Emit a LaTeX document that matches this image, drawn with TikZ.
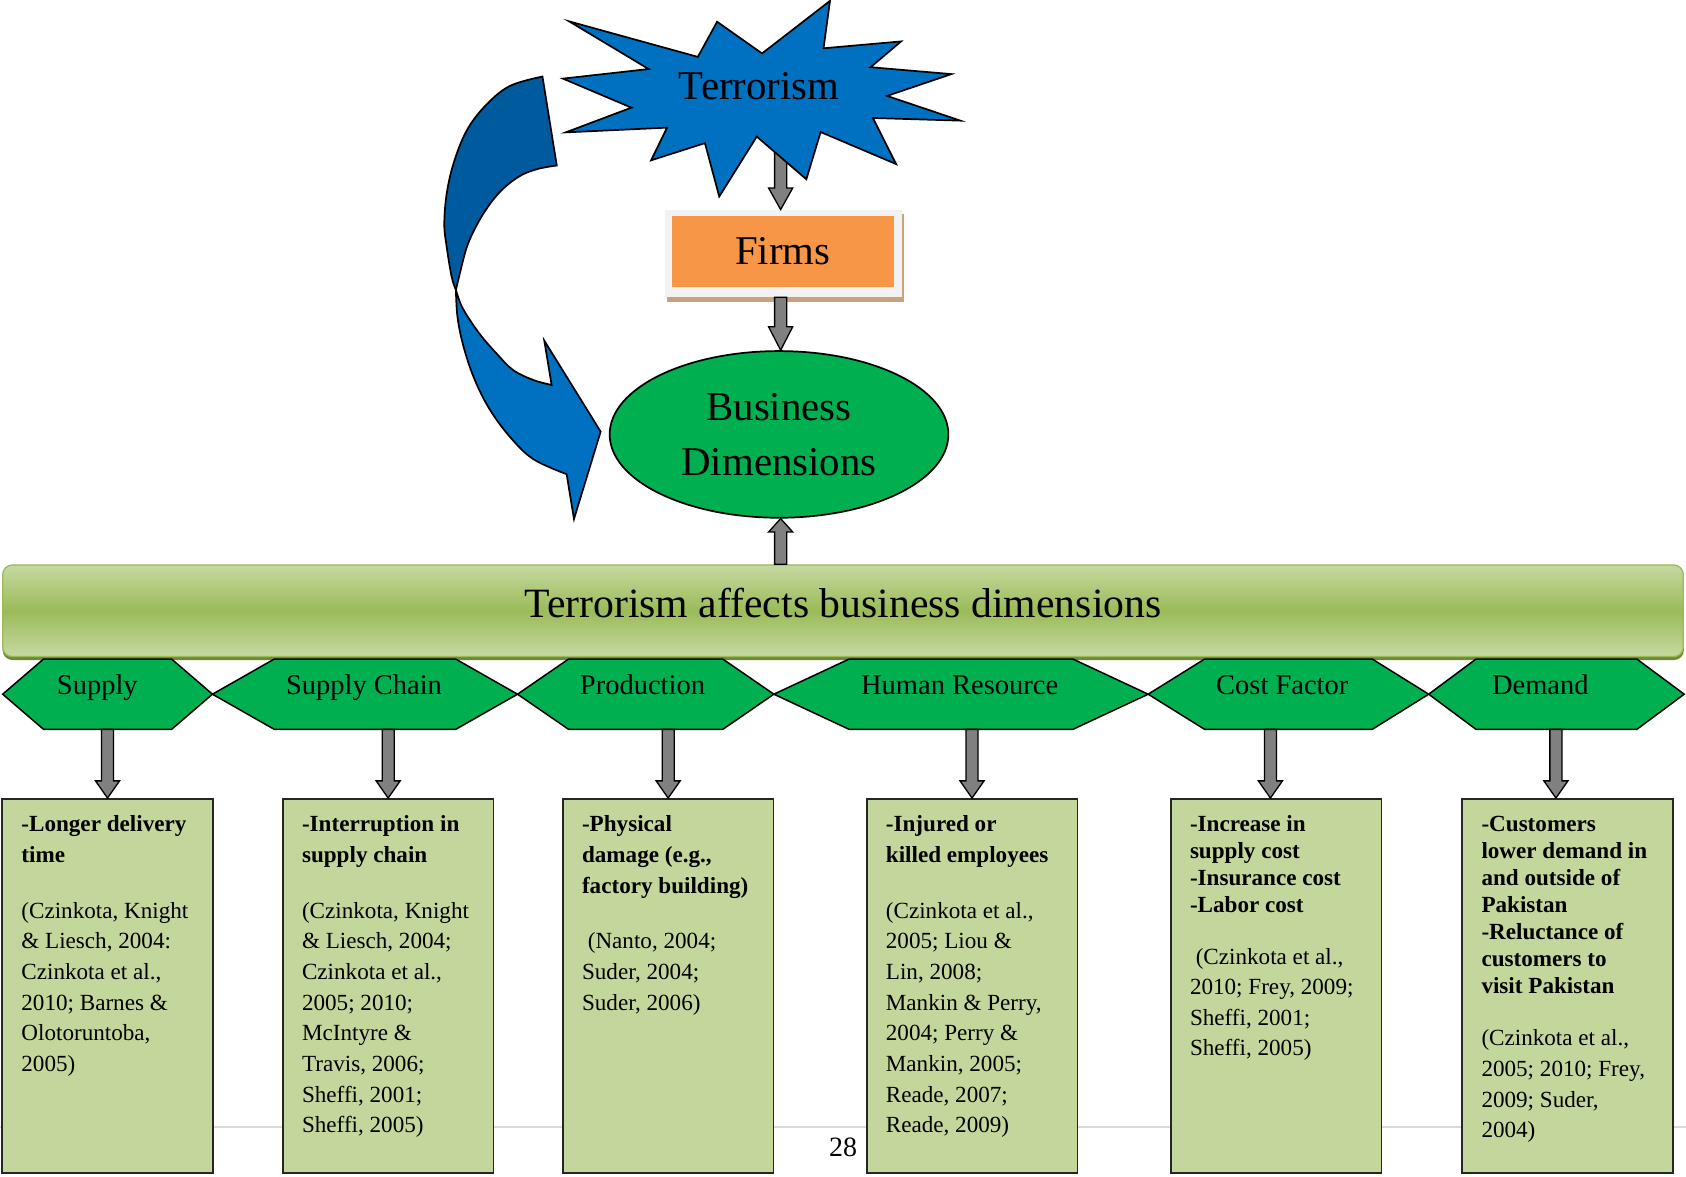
\documentclass[tikz,border=0pt]{standalone}
\usepackage{fontspec}
\setmainfont{Liberation Serif}
\usetikzlibrary{calc,shapes.geometric}

\definecolor{starblue}{HTML}{0070C0}
\definecolor{twistdark}{HTML}{005A9E}
\definecolor{okgreen}{HTML}{00B050}
\definecolor{cardgreen}{HTML}{C3D69B}
\definecolor{firmorange}{HTML}{F79646}
\definecolor{framegray}{HTML}{F2F2F2}
\definecolor{shadowtan}{HTML}{C9A27E}
\definecolor{barlight}{HTML}{C6D9A1}
\definecolor{barmid}{HTML}{9BBB59}
\definecolor{barshadow}{HTML}{6F8A36}
\definecolor{blockgray}{HTML}{808080}
\definecolor{footgray}{HTML}{D9D9D9}

% vertical block arrow: #1 tail point, #2 tip point, #3 signed head length
\newcommand\blockv[3]{%
  \draw[blockarrow] let \p1=#1, \p2=#2 in
    (\x1-2.8pt,\y1) -- (\x1-2.8pt,\y2+#3) -- (\x1-5.6pt,\y2+#3) -- (\x1,\y2)
    -- (\x1+5.6pt,\y2+#3) -- (\x1+2.8pt,\y2+#3) -- (\x1+2.8pt,\y1) -- cycle;}

% dimension hexagon: name, left tip x, right tip x, slant, label x, label
\newcommand\hexa[6]{%
  \draw[hexshape] (#2,645.6) -- (#2+#4,612.9) -- (#3-#4,612.9) -- (#3,645.6)
    -- (#3-#4,678.3) -- (#2+#4,678.3) -- cycle;
  \node[hexlabel] (#1) at (#5,646) {#6};}

\begin{document}
\begin{tikzpicture}[x=0.5pt,y=-0.5pt,
  blockarrow/.style={fill=blockgray, draw=black, line width=0.6pt, line join=miter},
  hexshape/.style={fill=okgreen, draw=black, line width=0.7pt, line join=miter},
  hexlabel/.style={font=\fontsize{13.25}{16}\selectfont, anchor=base, inner sep=0pt},
  card/.style={draw=black!85, fill=cardgreen, line width=0.8pt, inner sep=0pt,
    minimum width=98pt, minimum height=174pt},
  cardtext/.style={font=\fontsize{10.75}{14.25}\selectfont, align=left,
    anchor=north west, inner sep=0pt},
  bigtext/.style={font=\fontsize{19}{25.5}\selectfont, inner sep=0pt},
  outline/.style={draw=black, line width=0.8pt, line join=miter}]

\useasboundingbox (0,0) rectangle (1568,1094);
\fill[white] (0,0) rectangle (1568,1094);

% page footer rule and page number
\draw[footgray, line width=0.6pt] (0,1048) -- (1568,1048);
\node[font=\fontsize{13}{15}\selectfont, anchor=base, inner sep=0pt] (pageno) at (784,1075.5) {28};

% ---- upper cluster ----
\coordinate (starfoot) at (726,140);

% Firms box with frame and shadow
\node[fill=framegray, inner sep=0pt, minimum width=109.75pt, minimum height=40.35pt]
  (firmsframe) at (728.25,235.65) {};
\fill[shadowtan] ($(firmsframe.north west)+(2,4)$) rectangle ($(firmsframe.south east)+(2,4)$);
\fill[framegray] (firmsframe.north west) rectangle (firmsframe.south east);
\node[fill=firmorange, bigtext, minimum width=103pt, minimum height=33pt]
  (firms) at (728,234) {Firms};

% arrow from the burst to the firms
\blockv{(starfoot)}{(firmsframe.north -| starfoot)}{10pt}

% burst
\draw[outline, fill=starblue] (529.4,19.9) -- (649,52.9) -- (666.9,20.2) -- (708.7,49.7)
  -- (771.9,0.8) -- (765.9,44.9) -- (838,38.5) -- (809.7,62.5) -- (884.8,68.9)
  -- (825,89.2) -- (893.2,112.2) -- (811.8,109.7) -- (833.4,152.6) -- (763.2,122.8)
  -- (749.9,166.7) -- (703.8,127) -- (668.9,182.8) -- (655.6,133.1) -- (605.5,149.1)
  -- (620.4,118.7) -- (526.1,123.1) -- (587.2,100.1) -- (523.5,73.1) -- (603.2,64.2) -- cycle;
\node[bigtext] (terror) at (706,80) {Terrorism};

% business dimensions
\node[ellipse, outline, fill=okgreen, minimum width=157.5pt, minimum height=77.5pt,
  inner sep=0pt, align=center, font=\fontsize{19}{25.5}\selectfont]
  (dims) at (724.5,404) {Business\\Dimensions};

\blockv{(firmsframe.south -| starfoot)}{(dims.north -| starfoot)}{10.9pt}

% twisted curved arrow, lower (front) face
\draw[outline, fill=starblue]
  plot[smooth, tension=0.6] coordinates {(424,269.7) (425.5,295) (431,322) (441,352)
    (455,380) (474,406) (496,427) (527,441)}
  -- (533.8,482.7) -- (558.6,401.4) -- (506.2,316.8)
  -- plot[smooth, tension=0.6] coordinates {(513,358) (496,353.4) (477,344) (462,329)
    (448,313) (437,297.6) (429,284) (424,269.7)} -- cycle;
% upper (back) face
\draw[outline, fill=twistdark]
  plot[smooth, tension=0.6] coordinates {(504.5,71.2) (473.6,80.2) (450.4,99.4)
    (433.8,121.9) (422.2,150.7) (415.5,179.6) (413.2,208.5) (415.4,229.4) (420,257.3) (424,269.7)}
  -- plot[smooth, tension=0.6] coordinates {(424,269.7) (427.1,256.6) (433.8,230.9)
    (442.1,211.7) (453.7,192.4) (467,176.4) (483.6,163.6) (500.2,157.1) (517.8,153.9)}
  -- cycle;

% ---- banner ----
\fill[barshadow, rounded corners=4.5pt] (2.5,529) rectangle (1566,613.8);
\node[draw=barmid, line width=0.6pt, rounded corners=4.5pt, inner sep=0pt,
  top color=barlight, bottom color=barlight, middle color=barmid,
  minimum width=781.5pt, minimum height=42.6pt] (bar) at (784,568) {};
\node[font=\fontsize{19.4}{23}\selectfont, anchor=base, inner sep=0pt]
  (bartitle) at (784,574) {Terrorism affects business dimensions};

\blockv{(bar.north -| starfoot)}{(dims.south -| starfoot)}{-6.2pt}

% ---- dimensions ----
\hexa{h1}{2.5}{197.6}{38}{90.5}{Supply}
\hexa{h2}{197.6}{481.3}{57.5}{338.5}{Supply Chain}
\hexa{h3}{481.3}{719.7}{47.5}{597.5}{Production}
\hexa{h4}{719.7}{1067.8}{70}{892.5}{Human Resource}
\hexa{h5}{1067.8}{1328.7}{52.5}{1192.5}{Cost Factor}
\hexa{h6}{1328.7}{1566.3}{44}{1432.5}{Demand}

% ---- effect cards ----
\node[card] (b1) at (100,917) {};
\node[card] (b2) at (361,917) {};
\node[card] (b3) at (621.4,917) {};
\node[card] (b4) at (904,917) {};
\node[card] (b5) at (1186.8,917) {};
\node[card] (b6) at (1457.9,917) {};

\node[cardtext] (t1) at ($(b1.north west)+(18.3,11)$) {%
  \strut\textbf{-Longer delivery}\\ \textbf{time}\\[11.75pt]
  (Czinkota, Knight\\ \& Liesch, 2004:\\ Czinkota et al.,\\ 2010; Barnes \&\\
  Olotoruntoba,\\ 2005)};
\node[cardtext] (t2) at ($(b2.north west)+(18.3,11)$) {%
  \strut\textbf{-Interruption in}\\ \textbf{supply chain}\\[11.75pt]
  (Czinkota, Knight\\ \& Liesch, 2004;\\ Czinkota et al.,\\ 2005; 2010;\\
  McIntyre \&\\ Travis, 2006;\\ Sheffi, 2001;\\ Sheffi, 2005)};
\node[cardtext] (t3) at ($(b3.north west)+(18.3,11)$) {%
  \strut\textbf{-Physical}\\ \textbf{damage (e.g.,}\\ \textbf{factory building)}\\[11.75pt]
  \ (Nanto, 2004;\\ Suder, 2004;\\ Suder, 2006)};
\node[cardtext] (t4) at ($(b4.north west)+(18.3,11)$) {%
  \strut\textbf{-Injured or}\\ \textbf{killed employees}\\[11.75pt]
  (Czinkota et al.,\\ 2005; Liou \&\\ Lin, 2008;\\ Mankin \& Perry,\\
  2004; Perry \&\\ Mankin, 2005;\\ Reade, 2007;\\ Reade, 2009)};
\node[cardtext] (t5) at ($(b5.north west)+(18.3,11)$) {%
  \strut\textbf{-Increase in}\\[-1.75pt] \textbf{supply cost}\\[-1.75pt]
  \textbf{-Insurance cost}\\[-1.75pt] \textbf{-Labor cost}\\[9.75pt]
  \ (Czinkota et al.,\\ 2010; Frey, 2009;\\ Sheffi, 2001;\\ Sheffi, 2005)};
\node[cardtext] (t6) at ($(b6.north west)+(18.3,11)$) {%
  \strut\textbf{-Customers}\\[-1.75pt] \textbf{lower demand in}\\[-1.75pt]
  \textbf{and outside of}\\[-1.75pt] \textbf{Pakistan}\\[-1.75pt]
  \textbf{-Reluctance of}\\[-1.75pt] \textbf{customers to}\\[-1.75pt]
  \textbf{visit Pakistan}\\[10.25pt]
  (Czinkota et al.,\\ 2005; 2010; Frey,\\ 2009; Suder,\\ 2004)};

% arrows from each dimension to its card
\coordinate (f1) at (100,678.3);
\coordinate (f2) at (361,678.3);
\coordinate (f3) at (621.4,678.3);
\coordinate (f4) at (904,678.3);
\coordinate (f5) at (1181.5,678.3);
\coordinate (f6) at (1447,678.3);
\blockv{(f1)}{(b1.north -| f1)}{8pt}
\blockv{(f2)}{(b2.north -| f2)}{8pt}
\blockv{(f3)}{(b3.north -| f3)}{8pt}
\blockv{(f4)}{(b4.north -| f4)}{8pt}
\blockv{(f5)}{(b5.north -| f5)}{8pt}
\blockv{(f6)}{(b6.north -| f6)}{8pt}

\end{tikzpicture}
\end{document}
